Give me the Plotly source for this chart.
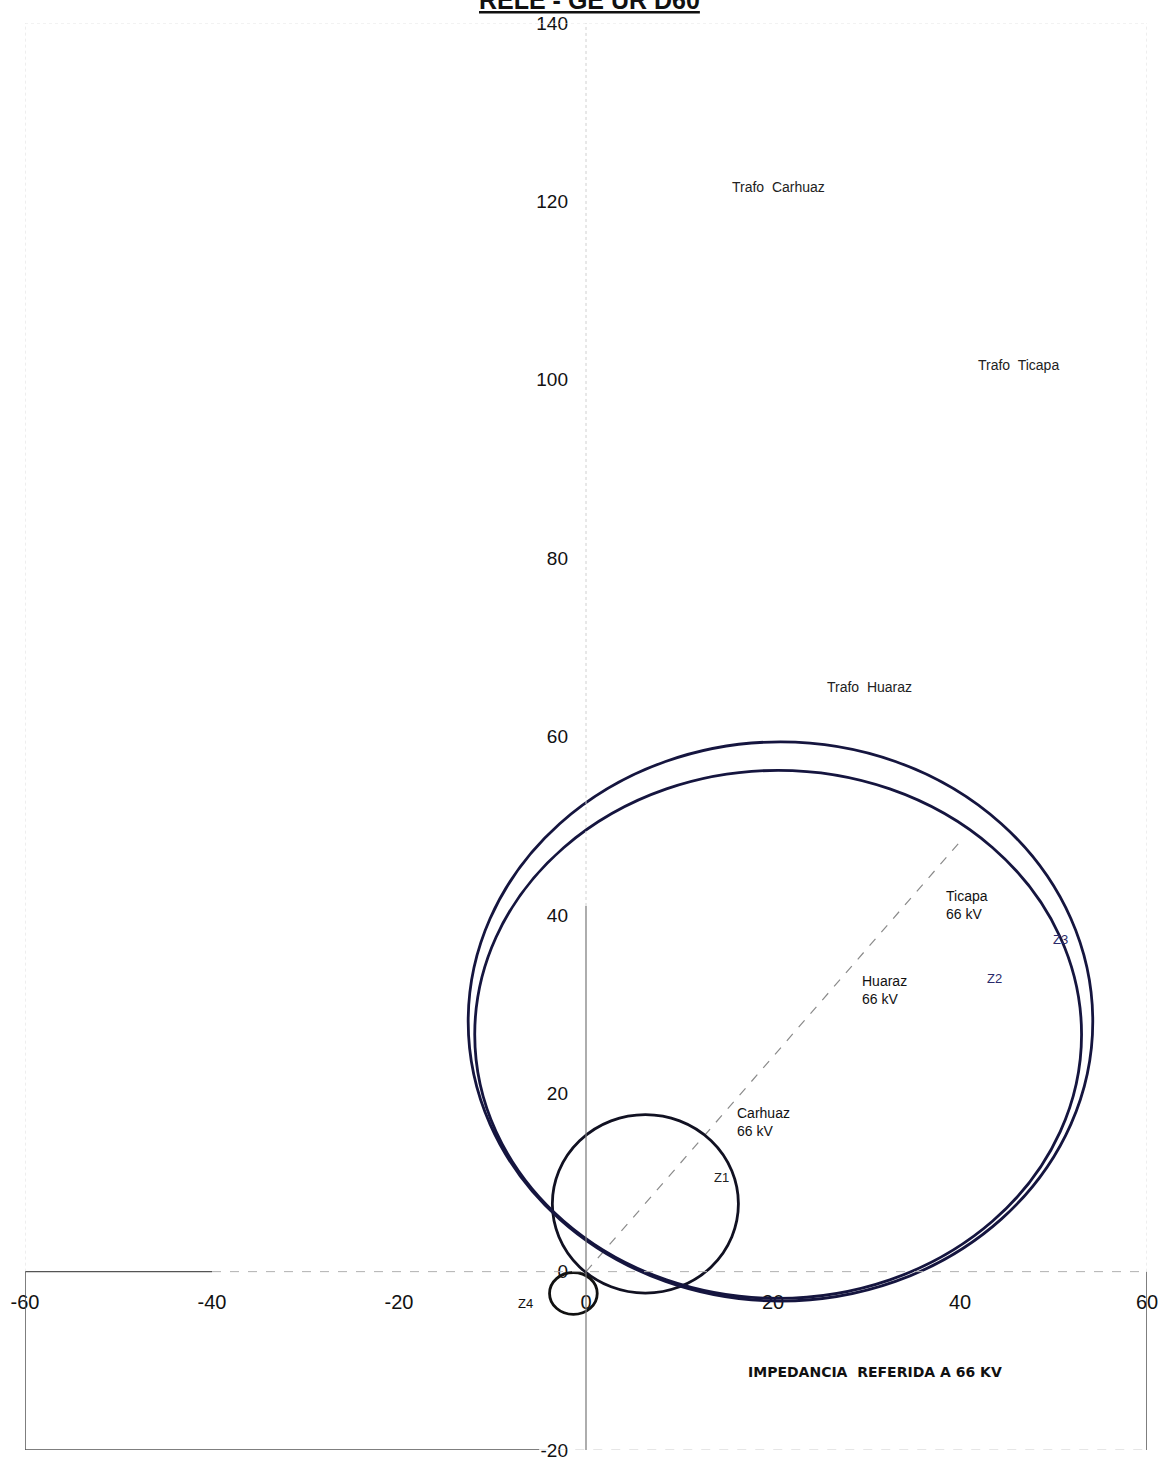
import plotly.graph_objects as go

# ---- data ----
zone_names = ["Z1", "Z2", "Z3", "Z4"]
zone_xmin = [-3.6, -11.9, -12.6, -3.9]
zone_xmax = [16.3, 53.0, 54.2, 1.2]
zone_ymin = [-2.4, -3.0, -3.3, -4.8]
zone_ymax = [17.6, 56.2, 59.4, -0.1]

line_r = [0.0, 40.0]
line_x = [0.0, 48.2]

zone_label_x = [14.5, 43.7, 50.8, -6.5]
zone_label_y = [10.5, 32.9, 37.2, -3.6]

bus_names = ["Carhuaz<br>66 kV", "Huaraz<br>66 kV", "Ticapa<br>66 kV"]
bus_x = [15.9, 29.3, 38.3]
bus_y = [18.9, 33.7, 43.2]

trafo_names = ["Trafo  Carhuaz", "Trafo  Huaraz", "Trafo  Ticapa"]
trafo_x = [20.6, 30.3, 46.3]
trafo_y = [121.6, 65.6, 101.6]

x_ticks = [-60, -40, -20, 0, 20, 40, 60]
y_ticks = [-20, 0, 20, 40, 60, 80, 100, 120, 140]

FONT = "Liberation Sans, Arial, Helvetica"

fig = go.Figure()

# dashed characteristic line
fig.add_trace(go.Scatter(x=line_r, y=line_x, mode="lines",
                         line=dict(color="#8a8a8a", width=1.2, dash="dash"),
                         showlegend=False, hoverinfo="skip"))

circle_colors = ["#111122", "#15153f", "#15153f", "#111111"]
for i in range(len(zone_names)):
    fig.add_shape(type="circle", xref="x", yref="y",
                  x0=zone_xmin[i], x1=zone_xmax[i], y0=zone_ymin[i], y1=zone_ymax[i],
                  line=dict(color=circle_colors[i], width=2.8))

# frame / axis lines
frame_col = "#555555"
fig.add_shape(type="line", xref="x", yref="y", x0=0, x1=0, y0=-20, y1=41,
              line=dict(color="#777777", width=1.2))
fig.add_shape(type="line", xref="x", yref="y", x0=0, x1=0, y0=41, y1=140,
              line=dict(color="#d0d0d0", width=1, dash="dot"))
fig.add_shape(type="line", xref="x", yref="y", x0=-60, x1=-40, y0=0, y1=0,
              line=dict(color=frame_col, width=1.2))
fig.add_shape(type="line", xref="x", yref="y", x0=-40, x1=60, y0=0, y1=0,
              line=dict(color="#b0b0b0", width=1, dash="dash"))
fig.add_shape(type="line", xref="x", yref="y", x0=-60, x1=-60, y0=-20, y1=0,
              line=dict(color=frame_col, width=1.5))
fig.add_shape(type="line", xref="x", yref="y", x0=-60, x1=-60, y0=0, y1=140,
              line=dict(color="#dddddd", width=1, dash="dot"))
fig.add_shape(type="line", xref="x", yref="y", x0=60, x1=60, y0=-20, y1=0,
              line=dict(color=frame_col, width=1.5))
fig.add_shape(type="line", xref="x", yref="y", x0=60, x1=60, y0=0, y1=140,
              line=dict(color="#dddddd", width=1, dash="dot"))
fig.add_shape(type="line", xref="x", yref="y", x0=-60, x1=-5, y0=-20, y1=-20,
              line=dict(color=frame_col, width=1.5))
fig.add_shape(type="line", xref="x", yref="y", x0=-5, x1=60, y0=-20, y1=-20,
              line=dict(color="#cccccc", width=1, dash="dash"))
fig.add_shape(type="line", xref="x", yref="y", x0=-60, x1=60, y0=140, y1=140,
              line=dict(color="#e6e6e6", width=1, dash="dot"))

# zone labels
zone_colors = ["#222222", "#2a2a6a", "#2a2a6a", "#111111"]
for i in range(len(zone_names)):
    fig.add_annotation(x=zone_label_x[i], y=zone_label_y[i], text=zone_names[i],
                       showarrow=False, xref="x", yref="y",
                       font=dict(family=FONT, size=13, color=zone_colors[i]))

for i in range(len(bus_names)):
    fig.add_annotation(x=bus_x[i], y=bus_y[i], text=bus_names[i], showarrow=False,
                       xref="x", yref="y", xanchor="left", yanchor="top", align="left",
                       font=dict(family=FONT, size=14, color="#111111"))

for i in range(len(trafo_names)):
    fig.add_annotation(x=trafo_x[i], y=trafo_y[i], text=trafo_names[i], showarrow=False,
                       xref="x", yref="y",
                       font=dict(family=FONT, size=14, color="#222222"))

fig.add_annotation(x=30.9, y=-11.3, text="<b>IMPEDANCIA  REFERIDA A 66 KV</b>", showarrow=False,
                   xref="x", yref="y",
                   font=dict(family="DejaVu Sans, Liberation Sans", size=14, color="#111111"))

fig.add_annotation(x=0.503, y=1, xref="paper", yref="paper", yanchor="bottom", yshift=7,
                   text="<b><u>RELE - GE UR D60</u></b>", showarrow=False,
                   font=dict(family=FONT, size=25, color="#111111"))

fig.update_layout(
    width=1163, height=1461,
    margin=dict(l=25, r=16, t=23, b=11, autoexpand=False),
    paper_bgcolor="white", plot_bgcolor="white",
    showlegend=False,
    xaxis=dict(range=[-60, 60], tickvals=x_ticks, ticktext=[str(v) for v in x_ticks],
               showgrid=False, zeroline=False, showline=False, automargin=False,
               anchor="free", position=0.125, ticks="", ticklabelstandoff=16,
               ticklabeloverflow="allow",
               tickfont=dict(family=FONT, size=20, color="#111111")),
    yaxis=dict(range=[-20, 140], tickvals=y_ticks, ticktext=[str(v) for v in y_ticks],
               showgrid=False, zeroline=False, showline=False, automargin=False,
               anchor="free", position=0.5, ticks="", ticklabelstandoff=18,
               ticklabeloverflow="allow",
               tickfont=dict(family=FONT, size=19, color="#111111")),
)

fig.write_html("out.html")
